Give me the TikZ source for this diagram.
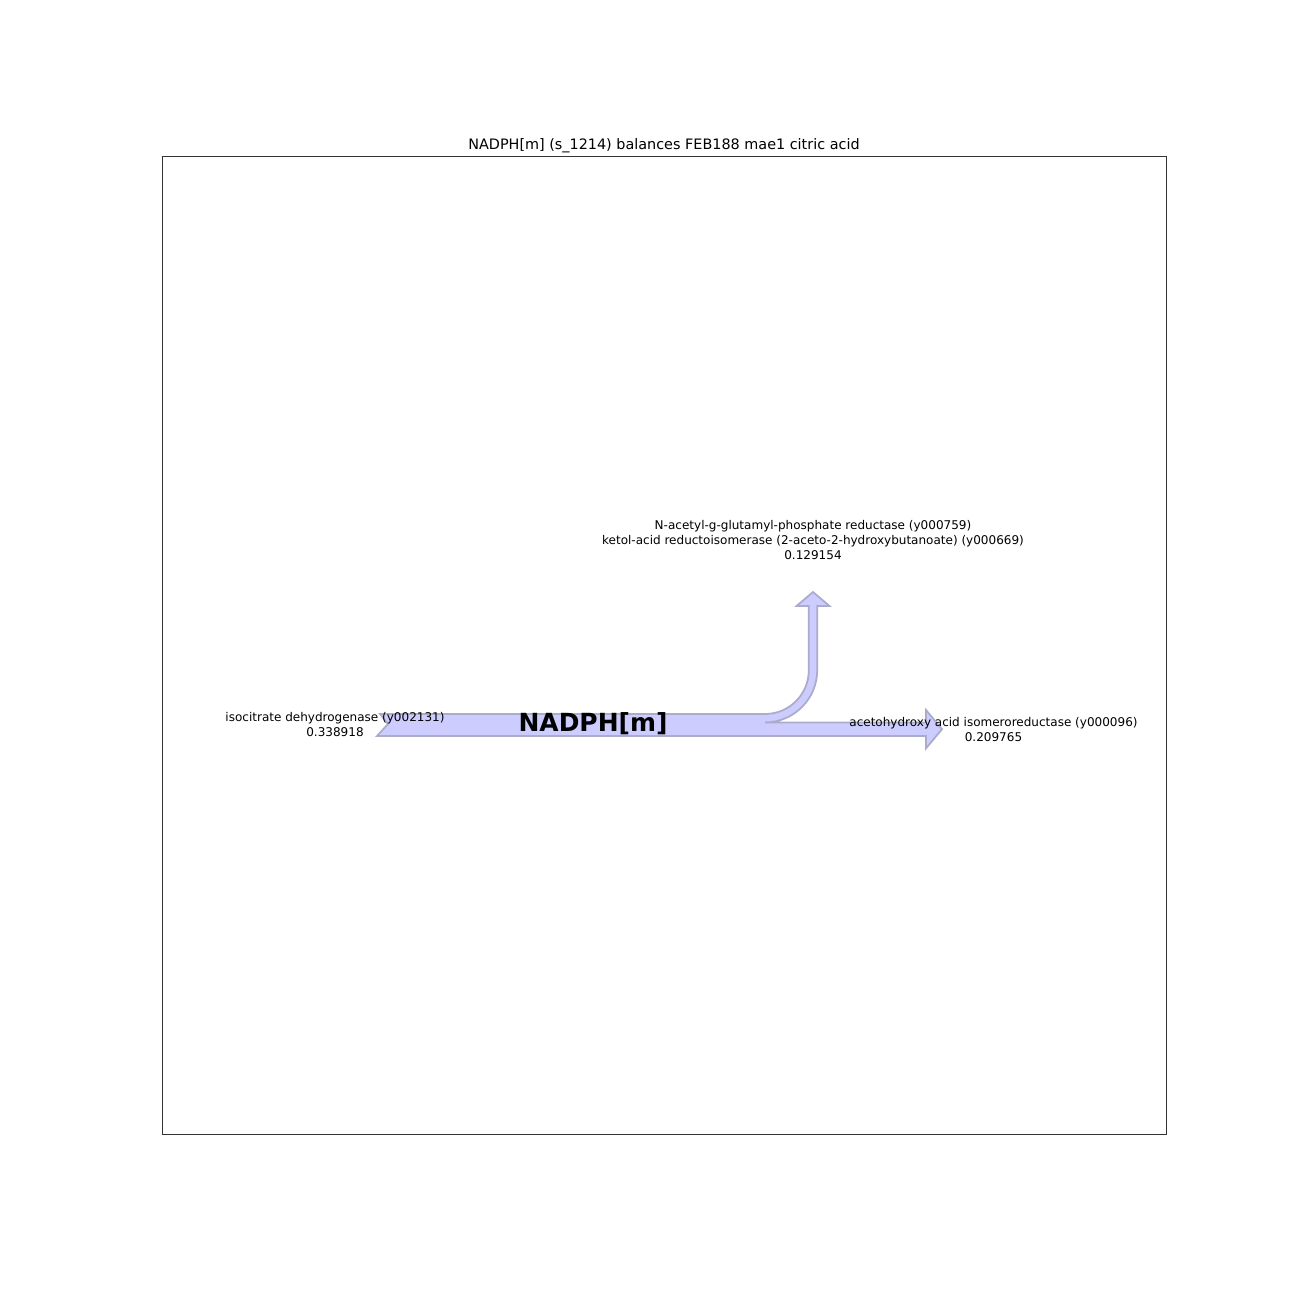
\documentclass[tikz,border=0pt]{standalone}
\usepackage{fontspec}
\setmainfont{DejaVu Sans}
\definecolor{flowfill}{HTML}{CCCCFF}
\definecolor{flowedge}{HTML}{ABABCB}
\definecolor{framecol}{HTML}{333333}

\begin{document}
\begin{tikzpicture}[
    x=0.02cm, y=-0.02cm,
    every node/.style={inner sep=0pt, outer sep=0pt},
    lbl/.style={font=\fontsize{6.84}{8.5}\selectfont, align=center},
    ttl/.style={font=\fontsize{8.19}{10}\selectfont},
    hub/.style={font=\fontsize{14.2}{17}\selectfont\bfseries},
    flow/.style={fill=flowfill, draw=flowedge, line width=1pt, line join=miter},
]
\useasboundingbox (0,0) rectangle (1296,1296);

% the axes frame
\draw[framecol, line width=0.45pt] (162,156) rectangle (1166,1134);
\node[ttl] (title) at (664,146) {NADPH[m] (s\_1214) balances FEB188 mae1 citric acid};

% the flows, one outline
\draw[flow] (380,714) -- (765,714)
    .. controls (789.2,714) and (808.8,694.4) .. (808.8,670.2)
    -- (808.8,606) -- (796.5,606) -- (813,592) -- (829.5,606) -- (817.2,606)
    -- (817.2,670.2)
    .. controls (817.2,699.0) and (793.8,722.4) .. (765,722.4)
    -- (926,722.4) -- (926,710) -- (942,729.2) -- (926,748.4) -- (926,736)
    -- (377,736) -- (388,724) -- cycle;

\node[hub] (hub) at (593,724) {NADPH[m]};

% labels
\node[lbl] (inflow) at (335,724.5) {isocitrate dehydrogenase (y002131)\\0.338918};
\node[lbl] (upflow) at (813,540) {N-acetyl-g-glutamyl-phosphate reductase (y000759)\\ketol-acid reductoisomerase (2-aceto-2-hydroxybutanoate) (y000669)\\0.129154};
\node[lbl] (rightflow) at (993.5,729.5) {acetohydroxy acid isomeroreductase (y000096)\\0.209765};
\end{tikzpicture}
\end{document}
